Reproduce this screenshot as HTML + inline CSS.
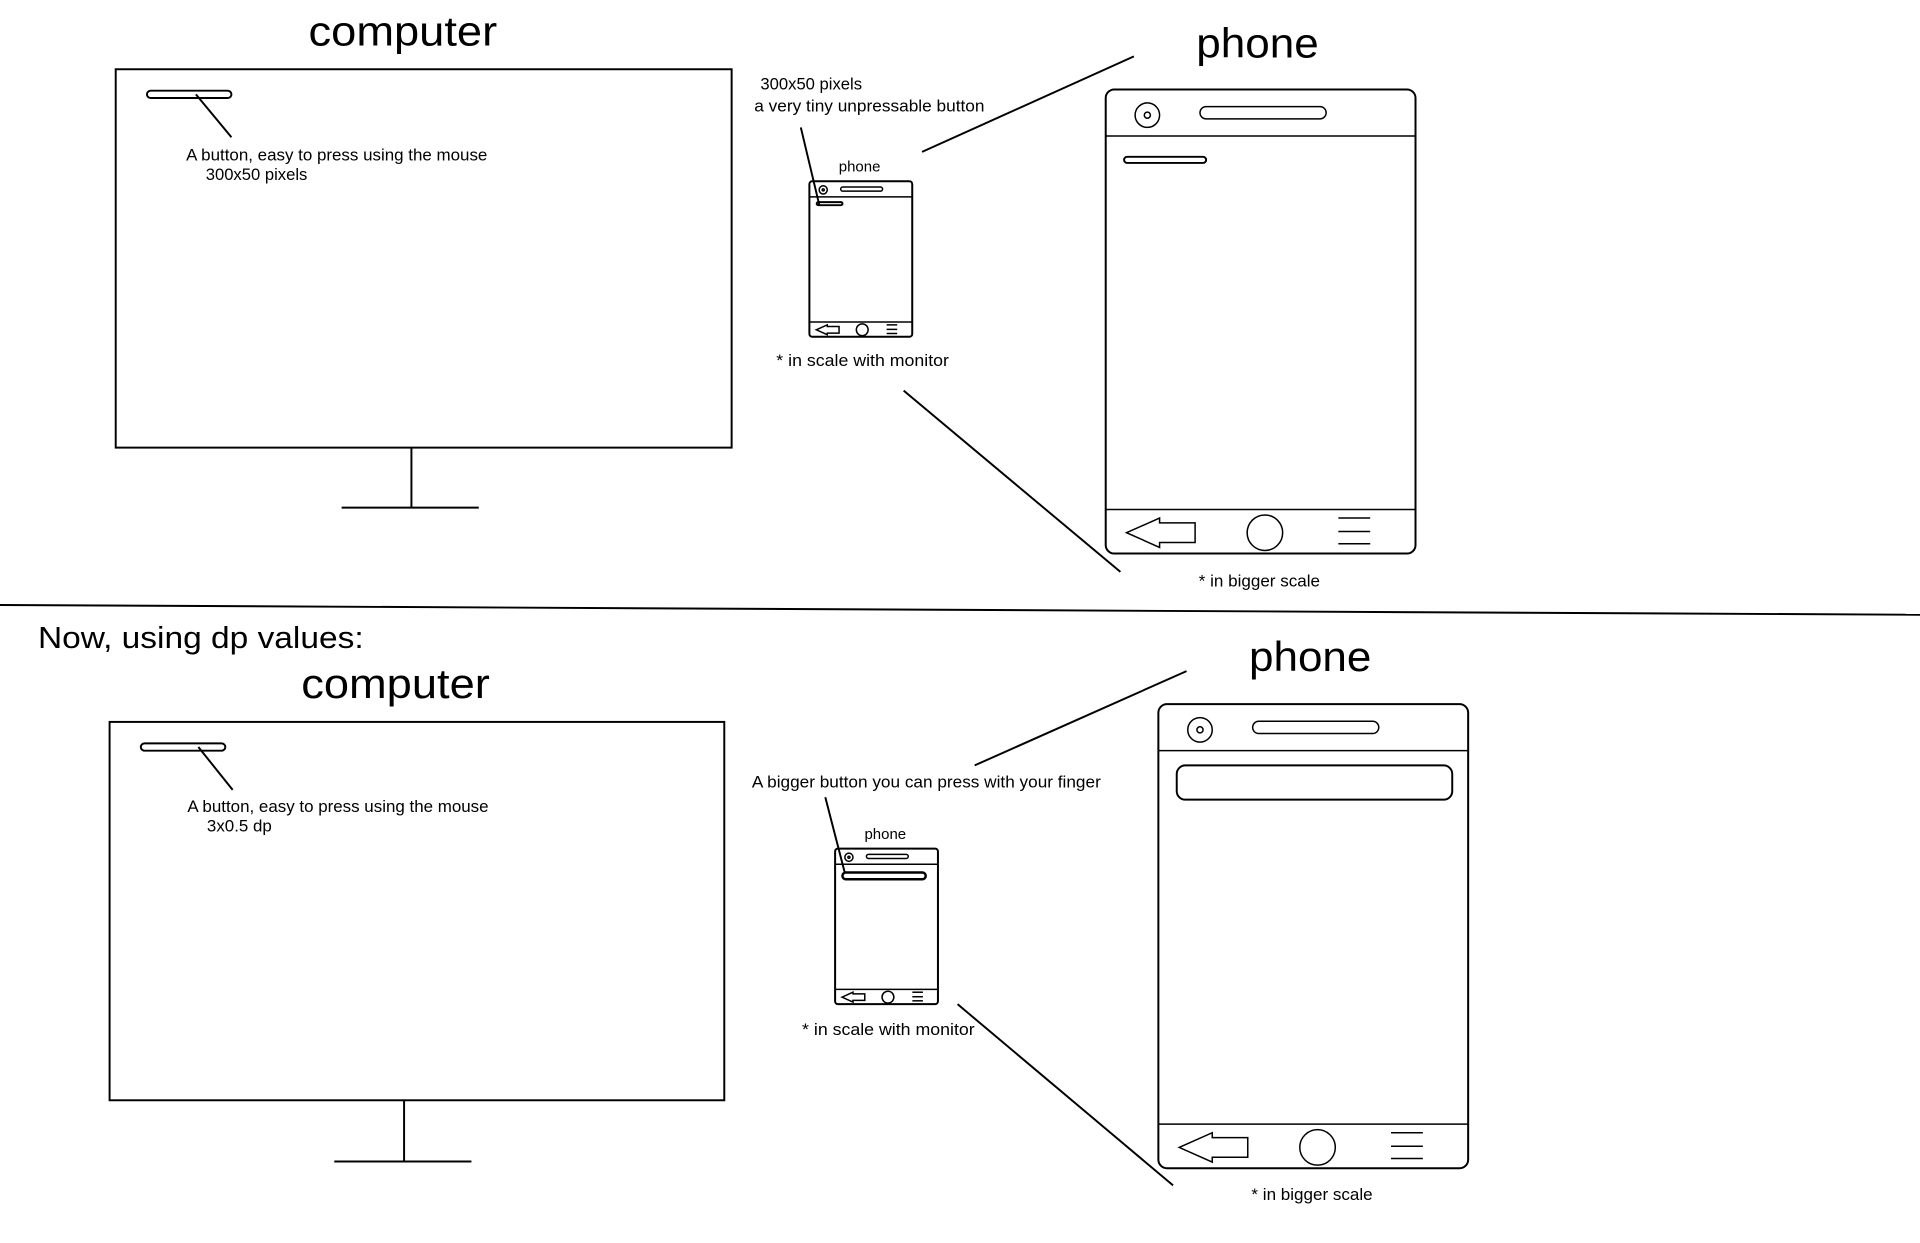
<!DOCTYPE html>
<html><head><meta charset="utf-8"><style>
html,body{margin:0;padding:0;background:#fff;}
svg{display:block;}
text{font-family:"Liberation Sans",sans-serif;fill:#000;}
</style></head><body>
<svg width="1920" height="1243" viewBox="0 0 1568 1015" xmlns="http://www.w3.org/2000/svg">
<defs>
<g id="ph" fill="none" stroke="#000">
<rect x="0" y="0" width="253" height="379" rx="7" stroke-width="2" vector-effect="non-scaling-stroke"/>
<line x1="0" y1="38" x2="253" y2="38" stroke-width="1.5" vector-effect="non-scaling-stroke"/>
<line x1="0" y1="343" x2="253" y2="343" stroke-width="1.5" vector-effect="non-scaling-stroke"/>
<circle cx="34" cy="21" r="10" stroke-width="1.5" vector-effect="non-scaling-stroke"/>
<circle cx="34" cy="21" r="2.5" stroke-width="1.5" vector-effect="non-scaling-stroke"/>
<rect x="77" y="14" width="103" height="10" rx="5" stroke-width="1.5" vector-effect="non-scaling-stroke"/>
<polygon points="17,362 44,350 44,354 73,354 73,370 44,370 44,374" stroke-width="1.5" vector-effect="non-scaling-stroke"/>
<circle cx="130" cy="362" r="14.5" stroke-width="1.5" vector-effect="non-scaling-stroke"/>
<line x1="190" y1="350" x2="216" y2="350" stroke-width="1.5" vector-effect="non-scaling-stroke"/>
<line x1="190" y1="361" x2="216" y2="361" stroke-width="1.5" vector-effect="non-scaling-stroke"/>
<line x1="190" y1="371" x2="216" y2="371" stroke-width="1.5" vector-effect="non-scaling-stroke"/>
</g>
</defs>
<g fill="none" stroke="#000" stroke-width="1.6">
<rect x="94.5" y="56.5" width="503" height="309"/>
<line x1="336" y1="365" x2="336" y2="414"/>
<line x1="279" y1="414.5" x2="391" y2="414.5"/>
<rect x="120" y="74" width="69" height="6" rx="3"/>
<line x1="160" y1="77" x2="189" y2="112"/>
<line x1="654" y1="104" x2="669" y2="167"/>
<line x1="753" y1="124" x2="926" y2="46"/>
<line x1="738" y1="319" x2="915" y2="467"/>
<rect x="918" y="128" width="67" height="5" rx="2.5"/>
<rect x="667" y="165" width="21" height="2.5" rx="1.2"/>
<line x1="0" y1="494" x2="1568" y2="502"/>
<rect x="89.5" y="589.5" width="502" height="309"/>
<line x1="330" y1="898" x2="330" y2="948"/>
<line x1="273" y1="948.5" x2="385" y2="948.5"/>
<rect x="115" y="607" width="69" height="6" rx="3"/>
<line x1="162" y1="610" x2="190" y2="645"/>
<line x1="674" y1="651" x2="690" y2="713"/>
<line x1="796" y1="625" x2="969" y2="548"/>
<line x1="782" y1="820" x2="958" y2="968"/>
<rect x="961" y="625" width="225" height="28" rx="7"/>
<rect x="688" y="712.5" width="68" height="5.5" rx="2.7" stroke-width="2"/>
</g>
<use href="#ph" transform="translate(903,73)"/>
<use href="#ph" transform="translate(946,575)"/>
<use href="#ph" transform="translate(661,148) scale(0.332,0.335)"/>
<use href="#ph" transform="translate(682,693) scale(0.332,0.335)"/>
<g font-size="34">
<text x="252" y="37" textLength="154" lengthAdjust="spacingAndGlyphs">computer</text>
<text x="977" y="47" textLength="100" lengthAdjust="spacingAndGlyphs">phone</text>
<text x="246" y="570" textLength="154" lengthAdjust="spacingAndGlyphs">computer</text>
<text x="1020" y="548" textLength="100" lengthAdjust="spacingAndGlyphs">phone</text>
</g>
<text x="31" y="529" font-size="25" textLength="266" lengthAdjust="spacingAndGlyphs">Now, using dp values:</text>
<g font-size="13.5">
<text x="152" y="131" textLength="246" lengthAdjust="spacingAndGlyphs">A button, easy to press using the mouse</text>
<text x="168" y="147" textLength="83" lengthAdjust="spacingAndGlyphs">300x50 pixels</text>
<text x="621" y="73" textLength="83" lengthAdjust="spacingAndGlyphs">300x50 pixels</text>
<text x="616" y="91" textLength="188" lengthAdjust="spacingAndGlyphs">a very tiny unpressable button</text>
<text x="634" y="299" textLength="141" lengthAdjust="spacingAndGlyphs">* in scale with monitor</text>
<text x="979" y="479" textLength="99" lengthAdjust="spacingAndGlyphs">* in bigger scale</text>
<text x="153" y="663" textLength="246" lengthAdjust="spacingAndGlyphs">A button, easy to press using the mouse</text>
<text x="169" y="679" textLength="53" lengthAdjust="spacingAndGlyphs">3x0.5 dp</text>
<text x="614" y="643" textLength="285" lengthAdjust="spacingAndGlyphs">A bigger button you can press with your finger</text>
<text x="655" y="845" textLength="141" lengthAdjust="spacingAndGlyphs">* in scale with monitor</text>
<text x="1022" y="980" textLength="99" lengthAdjust="spacingAndGlyphs">* in bigger scale</text>
</g>
<g font-size="12">
<text x="685" y="140" textLength="34" lengthAdjust="spacingAndGlyphs">phone</text>
<text x="706" y="685" textLength="34" lengthAdjust="spacingAndGlyphs">phone</text>
</g>
</svg>
</body></html>
